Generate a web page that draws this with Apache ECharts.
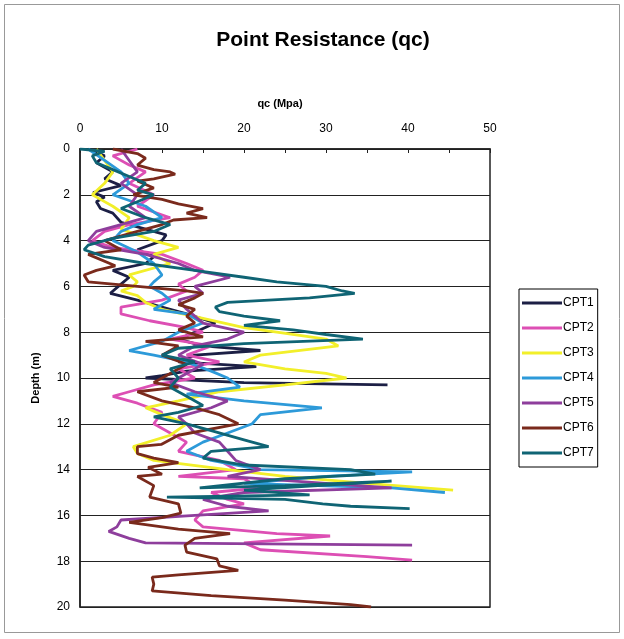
<!DOCTYPE html>
<html>
<head>
<meta charset="utf-8">
<script src="https://cdn.jsdelivr.net/npm/echarts@6/dist/echarts.min.js"></script>
<style>html,body{margin:0;padding:0;background:#fff}#c{width:624px;height:639px}</style>
</head>
<body>
<div id="c"></div>
<script>
// Each entry: [qc (MPa), depth (m)]
const seriesNames = ['CPT1','CPT2','CPT3','CPT4','CPT5','CPT6','CPT7'];
const cpt1 = [[1,0],[3,0.3],[2,0.6],[4,1.0],[3,1.3],[5,1.6],[1.6,1.9],[3,2.1],[2,2.3],[2.5,2.6],[4,2.8],[5,3.2],[8,3.5],[10.5,3.75],[10,4.0],[7,4.4],[9,4.7],[8,5.0],[4,5.3],[6,5.6],[5,5.9],[3.7,6.3],[7,6.6],[10,6.9],[13,7.2],[16.5,7.6],[14,8.0],[12,8.3],[15,8.6],[22,8.8],[14,9.0],[12,9.3],[21.5,9.5],[13,9.7],[10,9.9],[8,10.0],[20,10.2],[37.5,10.3]];
const cpt2 = [[7,0],[4,0.3],[6,0.7],[8,1.0],[6,1.5],[9,2.0],[7,2.5],[11,3.0],[6,3.3],[3,3.6],[1.5,4.0],[4,4.3],[10,4.6],[13,5.0],[15,5.3],[14,5.6],[12,5.9],[13,6.2],[10,6.6],[5,6.9],[5,7.2],[8.5,7.5],[13,7.8],[15,8.0],[11,8.3],[16,8.6],[13,9.0],[17,9.3],[12,9.6],[14,10.0],[9,10.3],[6,10.6],[4,10.8],[7,11.1],[10,11.5],[9,12.0],[11,12.4],[13,12.8],[12,13.2],[17,13.6],[19,14.0],[12,14.3],[20,14.4],[22,14.8],[16,15.0],[18,15.3],[20,15.5],[15,15.8],[14,16.2],[15,16.5],[24,16.8],[30.5,16.9],[20,17.2],[22,17.5],[35,17.8],[40.5,17.95]];
const cpt3 = [[2,0],[3,0.5],[4,1.0],[3,1.5],[1.5,2.0],[2.5,2.2],[4,2.5],[6,3.0],[5,3.5],[9,4.0],[12,4.3],[9,4.6],[11,5.0],[6,5.5],[7,5.8],[6.5,6.0],[5,6.2],[7,6.4],[8,6.7],[10,7.0],[15,7.4],[20,7.8],[24,8.0],[30,8.3],[31.5,8.6],[22,9.0],[20,9.3],[25,9.6],[30,9.8],[32.5,10.0],[25,10.3],[17,10.6],[12,11.0],[8,11.3],[10,11.6],[13,12.0],[11,12.5],[6.5,13.0],[7,13.3],[9,13.6],[18,14.0],[25,14.3],[35,14.6],[45.5,14.9]];
const cpt4 = [[1,0],[3,0.5],[5,1.0],[6,1.5],[4,2.0],[8,2.5],[10,3.0],[7,3.3],[5,3.6],[4,4.0],[7,4.5],[9,5.0],[10,5.5],[9,5.8],[8.5,6.0],[10,6.3],[11,6.6],[9,7.0],[13,7.2],[15,7.6],[12,8.0],[10,8.4],[6,8.8],[9,9.0],[13,9.3],[16,9.7],[18,10.0],[19.5,10.4],[13,10.7],[20,11.0],[29.5,11.3],[22,11.6],[21,12.0],[18,12.4],[15,12.8],[13,13.2],[16,13.6],[22,14.0],[40.5,14.1],[30,14.3],[20,14.6],[38,14.8],[44.5,15.0]];
const cpt5 = [[5,0],[6,0.5],[7,1.0],[5,1.5],[7,2.0],[6,2.5],[8,3.0],[5,3.3],[2,3.6],[1,4.0],[3,4.3],[8,4.6],[12,5.0],[14,5.3],[18.3,5.6],[14,6.0],[15,6.3],[12,6.6],[13,7.0],[14,7.3],[15,7.6],[20,8.0],[18,8.3],[14,8.6],[12,9.0],[15,9.4],[13,9.8],[11,10.2],[14,10.6],[18,11.0],[16,11.3],[12,11.7],[13,12.0],[14,12.4],[17,12.8],[18,13.2],[19,13.6],[22,14.0],[18,14.3],[30,14.6],[38,14.8],[20,15.0],[15,15.3],[18,15.6],[23,15.8],[14,16.0],[5,16.2],[4.5,16.5],[3.5,16.7],[6,17.0],[8,17.2],[40.5,17.3]];
const cpt6 = [[4,0],[7,0.2],[8,0.4],[7,0.7],[9,0.9],[11,1.0],[11.6,1.1],[9,1.3],[7,1.4],[9,1.7],[6.5,2.0],[10,2.2],[12,2.4],[15,2.6],[13,2.8],[15.5,3.0],[11.4,3.1],[10,3.3],[7,3.6],[3,4.0],[5,4.4],[1,4.6],[4.3,5.1],[2,5.3],[0.5,5.5],[1,5.8],[7,6.0],[13,6.2],[15,6.3],[14,6.5],[12,6.8],[14,7.0],[13,7.3],[14,7.6],[12,7.9],[15,8.2],[8,8.4],[12,8.6],[10,9.0],[13,9.4],[11,9.8],[9,10.2],[12,10.4],[7,10.6],[10,11.0],[14,11.3],[17,11.6],[19.3,12.0],[12,12.5],[9.9,12.9],[7,13.0],[7,13.3],[9,13.5],[12,13.7],[8.3,13.9],[10,14.2],[7,14.3],[9,14.7],[8.5,15.2],[12,15.5],[12.3,15.9],[10,16.1],[6,16.3],[12,16.6],[18.3,16.8],[14,17.0],[12.8,17.3],[13,17.6],[16.7,17.9],[17,18.2],[19.3,18.4],[12,18.6],[8.8,18.7],[9,19.0],[8.8,19.3],[16,19.5],[25,19.7],[33,19.9],[35.5,20]];
const cpt7 = [[0,0],[3,0.1],[1.5,0.3],[2,0.6],[4,0.9],[6,1.2],[8,1.5],[7,1.8],[9,2.0],[7,2.3],[5,2.6],[8,3.0],[11,3.3],[9,3.6],[4,3.9],[1,4.2],[0.5,4.4],[3,4.7],[8,5.0],[14,5.3],[20,5.6],[24,5.8],[30,6.0],[32,6.2],[33.5,6.3],[28,6.5],[18,6.7],[16.5,6.9],[17,7.1],[20,7.3],[24.4,7.5],[20,7.7],[26,7.9],[30,8.1],[34.5,8.3],[20,8.5],[12,8.7],[10,9.0],[14,9.3],[11,9.6],[12,10.0],[11,10.4],[13,10.8],[15,11.2],[12,11.5],[9,11.7],[13,12.0],[16,12.3],[20,12.7],[23,13.0],[16,13.2],[15,13.5],[20,13.8],[33,14.0],[36,14.2],[25,14.4],[14.6,14.8],[25,14.7],[38,14.5],[20,14.9],[28,15.1],[10.6,15.2],[25,15.3],[29.6,15.5],[33,15.6],[40.2,15.7]];
const seriesData = [cpt1,cpt2,cpt3,cpt4,cpt5,cpt6,cpt7];
const colors = ['#1c1f45','#dd4fb4','#f2ef2a','#2d9ad9','#8e3e9c','#7a2a1c','#0f6474'];

const chart = echarts.init(document.getElementById('c'));
chart.setOption({
  backgroundColor: '#fff',
  animation: false,
  title: {
    text: 'Point Resistance (qc)',
    left: 318, top: 25, textAlign: 'center',
    textStyle: {fontFamily: 'Liberation Sans, Arial', fontSize: 21, fontWeight: 'bold', color: '#000'}
  },
  graphic: [{
    type: 'rect', shape: {x: 4.5, y: 4.5, width: 615, height: 628},
    style: {fill: 'none', stroke: '#999', lineWidth: 1}, silent: true, z: -1
  }],
  legend: {
    orient: 'vertical', left: 519, top: 289,
    data: seriesNames,
    itemWidth: 40, itemHeight: 3, itemGap: 11,
    icon: 'rect',
    padding: [7, 4, 7, 3],
    borderColor: '#000', borderWidth: 1,
    textStyle: {fontFamily: 'Liberation Sans, Arial', fontSize: 12, color: '#000', lineHeight: 14, padding: [0,0,0,-4]}
  },
  grid: {left: 80, right: 134, top: 149, bottom: 32, show: true, borderColor: '#222', borderWidth: 1.5, backgroundColor: 'transparent'},
  xAxis: {
    type: 'value', position: 'top', min: 0, max: 50, interval: 10,
    name: 'qc (Mpa)', nameLocation: 'middle', nameGap: 40,
    nameTextStyle: {fontFamily: 'Liberation Sans, Arial', fontSize: 11, fontWeight: 'bold', color: '#000', padding: [0, 0, 0, -10]},
    axisLine: {show: true, lineStyle: {color: '#222', width: 1.5}},
    axisTick: {show: true, inside: true, length: 4, lineStyle: {color: '#222'}},
    minorTick: {show: true, splitNumber: 2, length: 4, lineStyle: {color: '#222'}},
    axisLabel: {fontFamily: 'Liberation Sans, Arial', fontSize: 12, color: '#000', margin: 14},
    splitLine: {show: false}
  },
  yAxis: {
    type: 'value', inverse: true, min: 0, max: 20, interval: 2,
    name: 'Depth (m)', nameLocation: 'middle', nameGap: 39, nameRotate: 90,
    nameTextStyle: {fontFamily: 'Liberation Sans, Arial', fontSize: 11, fontWeight: 'bold', color: '#000'},
    axisLine: {show: true, lineStyle: {color: '#222', width: 1.5}},
    axisTick: {show: true, inside: true, length: 4, lineStyle: {color: '#222'}},
    axisLabel: {fontFamily: 'Liberation Sans, Arial', fontSize: 12, color: '#000', margin: 10},
    splitLine: {show: true, lineStyle: {color: '#222', width: 1}}
  },
  series: seriesNames.map((n, i) => ({
    name: n, type: 'line', data: seriesData[i],
    showSymbol: false, symbol: 'none',
    color: colors[i],
    lineStyle: {width: 2.8, color: colors[i]},
    clip: true
  }))
});
</script>
</body>
</html>
